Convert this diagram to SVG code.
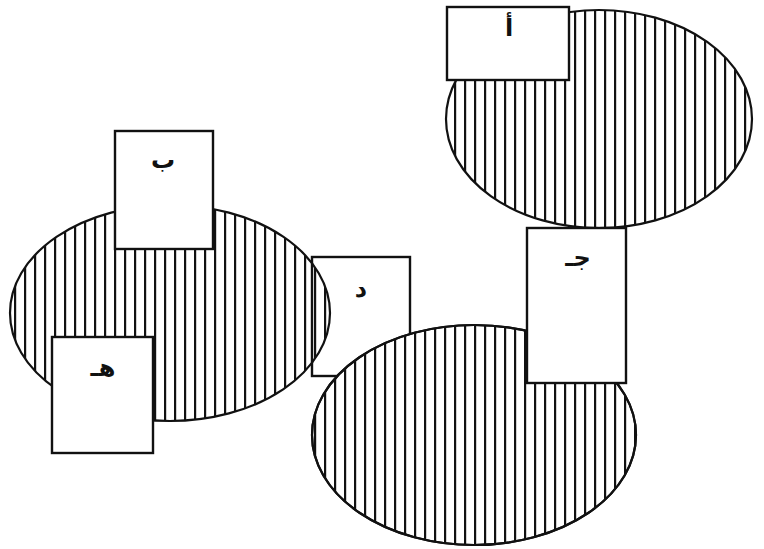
<svg xmlns="http://www.w3.org/2000/svg" width="764" height="549" viewBox="0 0 764 549">
<style>
.el{stroke:#111;stroke-width:2.2}
.bx{fill:#fff;stroke:#111;stroke-width:2.4}
.lb{font-family:"Noto Sans","DejaVu Sans",sans-serif;font-size:24px;font-weight:bold;fill:#111;text-anchor:middle}
</style>
<defs>
<pattern id="hatch" patternUnits="userSpaceOnUse" width="10" height="20">
<rect x="4" y="0" width="2.2" height="20" fill="#111"/>
</pattern>
</defs>
<rect width="764" height="549" fill="#fff"/>
<g id="node-d">
<rect class="bx" x="312" y="257" width="98" height="119"/>
<text class="lb" x="361" y="297">د</text>
</g>
<g id="ellipse-left">
<ellipse class="el" cx="170" cy="313" rx="160" ry="108" fill="url(#hatch)"/>
</g>
<g id="ellipse-top">
<ellipse class="el" cx="599" cy="119" rx="153" ry="109" fill="#fff"/>
<ellipse cx="599" cy="119" rx="153" ry="109" fill="url(#hatch)" stroke="none"/>
</g>
<g id="ellipse-bottom">
<ellipse class="el" cx="474" cy="435" rx="162" ry="110" fill="#fff"/>
<ellipse class="el" cx="474" cy="435" rx="162" ry="110" fill="url(#hatch)"/>
</g>
<g id="node-a">
<rect class="bx" x="447" y="7" width="122" height="73"/>
<text class="lb" x="509" y="36">أ</text>
</g>
<g id="node-b">
<rect class="bx" x="115" y="131" width="98" height="118"/>
<text class="lb" x="163" y="168">ب</text>
</g>
<g id="node-j">
<rect class="bx" x="527" y="228" width="99" height="155"/>
<text class="lb" x="578" y="266">جـ</text>
</g>
<g id="node-h">
<rect class="bx" x="52" y="337" width="101" height="116"/>
<text class="lb" x="103" y="376">هـ</text>
</g>
<g id="connectors"></g>
</svg>
